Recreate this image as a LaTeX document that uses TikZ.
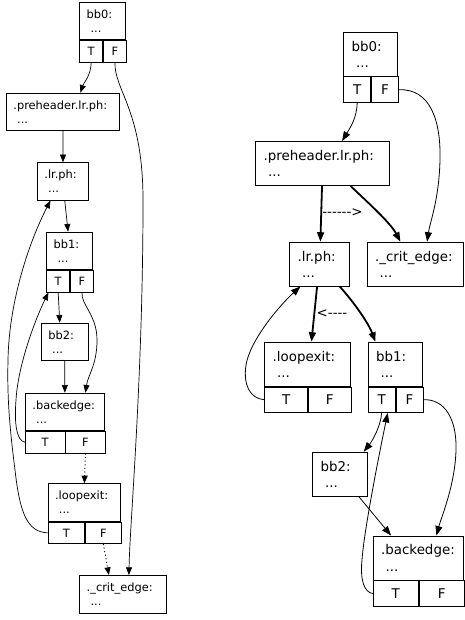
\documentclass[tikz,border=0pt]{standalone}
\usepackage{fontspec}
\newfontfamily\dvsans{DejaVu Sans}
\usetikzlibrary{arrows.meta}
\newcommand\lgfont{\dvsans\fontsize{11.4}{13.7}\selectfont}
\newcommand\rgfont{\dvsans\fontsize{13.4}{16.3}\selectfont}
\begin{document}
\begin{tikzpicture}[x=1pt,y=-1pt,
lblk/.style={draw,line width=0.8pt,font=\lgfont,align=left,inner xsep=7pt,inner ysep=0pt,minimum height=37.5pt,anchor=north west},
lcell/.style={draw,line width=0.8pt,font=\lgfont,inner sep=0pt,minimum height=21.7pt,anchor=north west},
rblk/.style={draw,line width=0.8pt,font=\rgfont,align=left,inner xsep=8pt,inner ysep=0pt,minimum height=44pt,anchor=north west},
rcell/.style={draw,line width=0.8pt,font=\rgfont,inner sep=0pt,minimum height=25.7pt,anchor=north west},
ledge/.style={-{Triangle[length=7.7pt,width=6pt]},line width=0.7pt},
lflow/.style={ledge,line width=1pt,dash pattern=on 1pt off 2.6pt},
redge/.style={-{Triangle[length=9.5pt,width=7pt]},line width=0.8pt},
rhot/.style={redge,line width=1.8pt}]
\useasboundingbox(0,0)rectangle(464,620);
\node[lblk,text width=32pt](lbb0)at(79.3,1.7){bb0:\\\ ...};
\node[lcell,minimum width=23pt](lbb0T)at(lbb0.south west){T};
\node[lcell,minimum width=23pt](lbb0F)at(lbb0T.north east){F};
\node[lblk,text width=99pt](lpre)at(6,92.7){.preheader.lr.ph:\\\ ...};
\node[lblk,text width=37.3pt](llr)at(37,162.3){.lr.ph:\\\ ...};
\node[lblk,text width=32pt](lbb1)at(46.3,231.7){bb1:\\\ ...};
\node[lcell,minimum width=23pt](lbb1T)at(lbb1.south west){T};
\node[lcell,minimum width=23pt](lbb1F)at(lbb1T.north east){F};
\node[lblk,text width=32.7pt](lbb2)at(41,322.7){bb2:\\\ ...};
\node[lblk,text width=65pt](lback)at(25,392.7){.backedge:\\\ ...};
\node[lcell,minimum width=39.5pt](lbackT)at(lback.south west){T};
\node[lcell,minimum width=39.5pt](lbackF)at(lbackT.north east){F};
\node[lblk,text width=58.6pt](lexit)at(47.7,483.3){.loopexit:\\\ ...};
\node[lcell,minimum width=36.3pt](lexitT)at(lexit.south west){T};
\node[lcell,minimum width=36.3pt](lexitF)at(lexitT.north east){F};
\node[lblk,text width=72.4pt](lcrit)at(79.3,575){.\_crit\_edge:\\\ ...};
\draw[ledge](lbb0T.south)..controls(90.8,76)and(84,82)..([xshift=17.5pt]lpre.north);
\draw[ledge](lbb0F.south)..controls(114,90)and(143,110)..(143,200)..controls(143,380)and(130,520)..([xshift=6pt]lcrit.north);
\draw[ledge](lpre)--(llr);
\draw[ledge]([xshift=1.7pt]llr.south)--([xshift=-1.6pt]lbb1.north);
\draw[ledge](lbb1T.south)--([xshift=-5pt]lbb2.north);
\draw[ledge](lbb1F.south)..controls(81,305)and(97,315)..(97,340)..controls(97,365)and(88,375)..([xshift=20.5pt]lback.north);
\draw[ledge](lbb2)--(lback);
\draw[ledge](lbackT.west)..controls(17,441)and(14,425)..(16,400)..controls(18,365)and(35,320)..([xshift=-9.8pt]lbb1T.south);
\draw[lflow](lbackF.south)--(lexit.north);
\draw[ledge](lexitT.west)..controls(28,532)and(20,515)..(15,470)..controls(10,430)and(7,400)..(8,360)..controls(9,300)and(30,240)..([xshift=-12.6pt]llr.south);
\draw[lflow](lexitF.south)--([xshift=-14pt]lcrit.north);
\node[rblk,text width=38pt](rbb0)at(343.3,31.7){bb0:\\\ ...};
\node[rcell,minimum width=27pt](rbb0T)at(rbb0.south west){T};
\node[rcell,minimum width=27pt](rbb0F)at(rbb0T.north east){F};
\node[rblk,text width=118pt](rpre)at(255.3,141){.preheader.lr.ph:\\\ ...};
\node[rblk,text width=44pt](rlr)at(289.3,241.7){.lr.ph:\\\ ...};
\node[rblk,text width=80.3pt](rcrit)at(366.7,241.7){.\_crit\_edge:\\\ ...};
\node[rblk,text width=69.7pt](rexit)at(264.3,341.7){.loopexit:\\\ ...};
\node[rcell,minimum width=42.85pt](rexitT)at(rexit.south west){T};
\node[rcell,minimum width=42.85pt](rexitF)at(rexitT.north east){F};
\node[rblk,text width=38pt](rbb1)at(367.7,341.7){bb1:\\\ ...};
\node[rcell,minimum width=27pt](rbb1T)at(rbb1.south west){T};
\node[rcell,minimum width=27pt](rbb1F)at(rbb1T.north east){F};
\node[rblk,text width=38.4pt](rbb2)at(312.3,451.7){bb2:\\\ ...};
\node[rblk,text width=74.3pt](rback)at(372.7,535.5){.backedge:\\\ ...};
\node[rcell,minimum width=45.15pt](rbackT)at(rback.south west){T};
\node[rcell,minimum width=45.15pt](rbackF)at(rbackT.north east){F};
\draw[redge](rbb0T.south)..controls(356.8,118)and(350,128)..([xshift=19.4pt]rpre.north);
\draw[redge](rbb0F.east)..controls(430,88.5)and(441,120)..(440,160)..controls(439,200)and(430,222)..([xshift=11.8pt]rcrit.north);
\draw[rhot](rpre)--(rlr);
\draw[rhot]([xshift=27.7pt]rpre.south)..controls(365,200)and(390,222)..([xshift=-14.85pt]rcrit.north);
\node[font=\rgfont,inner sep=0pt](rto)at(342.5,212.7){------>};
\draw[rhot]([xshift=-2.6pt]rlr.south)--([xshift=3.9pt]rexit.north);
\draw[rhot]([xshift=20pt]rlr.south)..controls(352,300)and(368,322)..([xshift=-19.7pt]rbb1.north);
\node[font=\rgfont,inner sep=0pt](rfrom)at(332,313.3){<----};
\draw[redge](rexitT.west)..controls(250,398.5)and(243,385)..(246,365)..controls(250,340)and(280,305)..([xshift=-19.3pt]rlr.south);
\draw[redge](rbb1T.south)..controls(381,425)and(373,440)..([xshift=23.8pt]rbb2.north);
\draw[redge](rbb1F.east)..controls(445,398.5)and(457,420)..(456,450)..controls(455,485)and(442,515)..([xshift=18.15pt]rback.north);
\draw[redge]([xshift=18.8pt]rbb2.south)--([xshift=-27.2pt]rback.north);
\draw[redge](rbackT.west)..controls(364,592)and(360,580)..(362,560)..controls(364,530)and(380,450)..([xshift=6.1pt]rbb1T.south);
\end{tikzpicture}
\end{document}
